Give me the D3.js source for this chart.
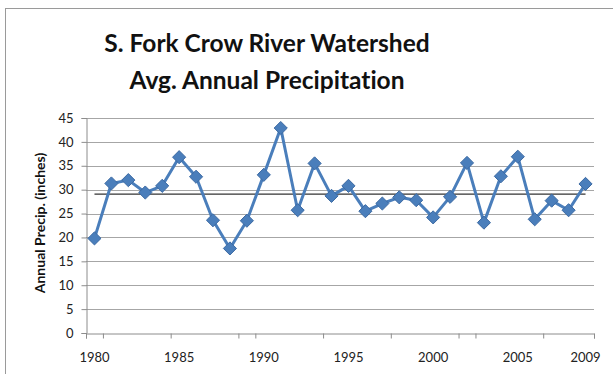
<!DOCTYPE html>
<html>
<head>
<meta charset="utf-8">
<script src="https://cdn.jsdelivr.net/npm/d3@7"></script>
<style>
  body { margin: 0; background: #fff; }
  text { font-family: Lato, "Open Sans", sans-serif; font-variant-ligatures: none; }
</style>
</head>
<body>
<div id="chart"></div>
<script>
// Data
var years = [1980, 1981, 1982, 1983, 1984, 1985, 1986, 1987, 1988, 1989,
             1990, 1991, 1992, 1993, 1994, 1995, 1996, 1997, 1998, 1999,
             2000, 2001, 2002, 2003, 2004, 2005, 2006, 2007, 2008, 2009];
var precip = [19.8, 31.3, 32.0, 29.4, 30.8, 36.8, 32.7, 23.6, 17.7, 23.5,
              33.1, 42.9, 25.7, 35.5, 28.7, 30.8, 25.5, 27.1, 28.4, 27.8,
              24.2, 28.5, 35.6, 23.1, 32.8, 36.9, 23.8, 27.7, 25.7, 31.2];
var yTicks = [0, 5, 10, 15, 20, 25, 30, 35, 40, 45];
var xLabels = [1980, 1985, 1990, 1995, 2000, 2005, 2009];
var xTickBounds = [0, 1, 5, 9, 10, 14, 18, 22, 23, 27, 30]; // category boundaries with tick marks
var titleLines = ["S. Fork Crow River Watershed", "Avg. Annual Precipitation"];

// Dimensions
var outerWidth = 613;
var outerHeight = 374;
var plotLeft = 86;
var plotRight = 594;
var plotTop = 118;
var plotBottom = 333;

var svg = d3.select("#chart").append("svg")
  .attr("width", outerWidth)
  .attr("height", outerHeight);

// chart frame
svg.append("rect")
  .attr("x", 5.5).attr("y", 8.5)
  .attr("width", 700).attr("height", 500)
  .attr("fill", "none")
  .attr("stroke", "#9a9a9a");

var xBand = d3.scaleBand().domain(years).range([plotLeft, plotRight]);
var xPos = function(yr) { return xBand(yr) + xBand.bandwidth() / 2; };
var xEdge = d3.scaleLinear().domain([0, years.length]).range([plotLeft, plotRight]);
var yScale = d3.scaleLinear().domain([0, 45]).range([plotBottom, plotTop]);

// title
svg.append("g").selectAll("text").data(titleLines).enter().append("text")
  .attr("x", 267)
  .attr("y", function(d, i) { return 52 + i * 37; })
  .attr("text-anchor", "middle")
  .attr("font-size", 24.5)
  .attr("font-weight", "bold")
  .attr("fill", "#111")
  .text(function(d) { return d; });

// gridlines
svg.append("g").selectAll("line").data(yTicks.slice(1)).enter().append("line")
  .attr("x1", plotLeft).attr("x2", plotRight)
  .attr("y1", function(d) { return Math.round(yScale(d)) + 0.5; })
  .attr("y2", function(d) { return Math.round(yScale(d)) + 0.5; })
  .attr("stroke", "#a6a6a6");

// y axis
var yAxis = d3.axisLeft(yScale).tickValues(yTicks).tickSize(5).tickPadding(8);
var yAxisG = svg.append("g").attr("transform", "translate(" + (plotLeft + 0.5) + ",0)").call(yAxis);
yAxisG.select(".domain").attr("stroke", "#8c8c8c");
yAxisG.selectAll(".tick line").attr("stroke", "#8c8c8c");
yAxisG.selectAll("text").attr("font-size", 13).attr("fill", "#222").style("font-family", "Lato");

// x axis
var xAxis = d3.axisBottom(xEdge).tickValues(xTickBounds).tickSize(5).tickFormat("");
var xAxisG = svg.append("g").attr("transform", "translate(0," + (plotBottom + 0.5) + ")").call(xAxis);
xAxisG.select(".domain").attr("stroke", "#8c8c8c");
xAxisG.selectAll(".tick line").attr("stroke", "#8c8c8c");

svg.append("g").selectAll("text").data(xLabels).enter().append("text")
  .attr("x", function(d) { return xPos(d); })
  .attr("y", 362)
  .attr("text-anchor", "middle")
  .attr("font-size", 13)
  .attr("fill", "#222")
  .text(function(d) { return d; });

// y axis title
svg.append("text")
  .attr("transform", "translate(45,223) rotate(-90)")
  .attr("text-anchor", "middle")
  .attr("font-size", 14)
  .attr("font-weight", "bold")
  .attr("fill", "#111")
  .text("Annual Precip. (inches)");

// mean line
var avg = d3.mean(precip);
svg.append("line")
  .attr("x1", xPos(years[0])).attr("x2", xPos(years[years.length - 1]))
  .attr("y1", yScale(avg)).attr("y2", yScale(avg))
  .attr("stroke", "#333")
  .attr("stroke-width", 1.2);

// series
var line = d3.line()
  .x(function(d, i) { return xPos(years[i]); })
  .y(function(d) { return yScale(d); });

svg.append("path")
  .datum(precip)
  .attr("d", line)
  .attr("fill", "none")
  .attr("stroke", "#4a7ebb")
  .attr("stroke-width", 3)
  .attr("stroke-linejoin", "round");

var diamond = d3.symbol().type(d3.symbolDiamond2).size(110);
svg.append("g").selectAll("path").data(precip).enter().append("path")
  .attr("transform", function(d, i) { return "translate(" + xPos(years[i]) + "," + yScale(d) + ")"; })
  .attr("d", diamond)
  .attr("fill", "#4a7ebb")
  .attr("stroke", "#3c6aa3")
  .attr("stroke-width", 1);
</script>
</body>
</html>
